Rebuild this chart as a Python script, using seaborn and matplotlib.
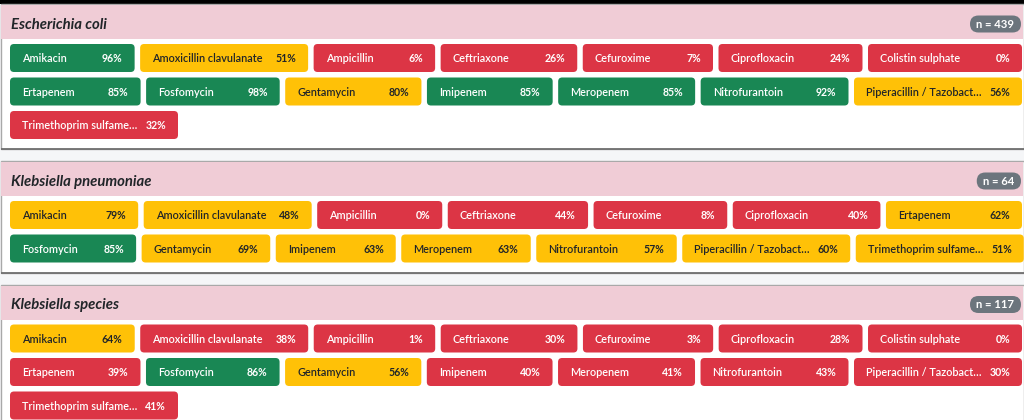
import matplotlib
matplotlib.use("Agg")
import matplotlib.pyplot as plt
from matplotlib.patches import FancyBboxPatch, Rectangle
import seaborn as sns
import pandas as pd

# ---------------- data ----------------
organisms = ["Escherichia coli", "Klebsiella pneumoniae", "Klebsiella species"]
isolate_counts = [439, 64, 117]

ecoli_drugs = ["Amikacin", "Amoxicillin clavulanate", "Ampicillin", "Ceftriaxone",
               "Cefuroxime", "Ciprofloxacin", "Colistin sulphate", "Ertapenem",
               "Fosfomycin", "Gentamycin", "Imipenem", "Meropenem", "Nitrofurantoin",
               "Piperacillin / Tazobact…", "Trimethoprim sulfame…"]
ecoli_pct = [96, 51, 6, 26, 7, 24, 0, 85, 98, 80, 85, 85, 92, 56, 32]

kpn_drugs = ["Amikacin", "Amoxicillin clavulanate", "Ampicillin", "Ceftriaxone",
             "Cefuroxime", "Ciprofloxacin", "Ertapenem", "Fosfomycin", "Gentamycin",
             "Imipenem", "Meropenem", "Nitrofurantoin", "Piperacillin / Tazobact…",
             "Trimethoprim sulfame…"]
kpn_pct = [79, 48, 0, 44, 8, 40, 62, 85, 69, 63, 63, 57, 60, 51]

ksp_drugs = ["Amikacin", "Amoxicillin clavulanate", "Ampicillin", "Ceftriaxone",
             "Cefuroxime", "Ciprofloxacin", "Colistin sulphate", "Ertapenem",
             "Fosfomycin", "Gentamycin", "Imipenem", "Meropenem", "Nitrofurantoin",
             "Piperacillin / Tazobact…", "Trimethoprim sulfame…"]
ksp_pct = [64, 38, 1, 30, 3, 28, 0, 39, 86, 56, 40, 41, 43, 30, 41]

frames = []
for org, drugs, pcts in [(organisms[0], ecoli_drugs, ecoli_pct),
                         (organisms[1], kpn_drugs, kpn_pct),
                         (organisms[2], ksp_drugs, ksp_pct)]:
    frames.append(pd.DataFrame({"organism": org, "drug": drugs, "pct": pcts}))
df = pd.concat(frames, ignore_index=True)

# ---------------- style ----------------
sns.set_theme(style="white")
FONT = ["Lato", "DejaVu Sans"]
plt.rcParams["font.family"] = FONT
green, yellow, red = sns.color_palette(["#198754", "#ffc107", "#dc3545"])
DARK = "#212529"
PINK = "#f0ccd6"
PAGE = "#f5f6f8"

def chip_color(p):
    if p >= 85:
        return green, "white"
    if p >= 45:
        return yellow, DARK
    return red, "white"

W, H = 1024, 420
fig = plt.figure(figsize=(W / 100, H / 100), dpi=100)
ax = fig.add_axes([0, 0, 1, 1])
ax.set_xlim(0, W)
ax.set_ylim(H, 0)
ax.axis("off")
fig.patch.set_facecolor(PAGE)
renderer = fig.canvas.get_renderer()

def text_w(s, size, **kw):
    t = ax.text(0, 0, s, fontsize=size, **kw)
    w = t.get_window_extent(renderer).width
    t.remove()
    return w

def fit_size(s, target, **kw):
    return 10 * target / text_w(s, 10, **kw)

LBL_KW = dict(fontweight="semibold")
PCT_KW = dict(fontweight="bold")
HDR_KW = dict(fontweight="bold", fontstyle="italic")
fs_lbl = min(9.5, fit_size("Amoxicillin clavulanate", 111, **LBL_KW))
fs_pct = min(9.5, fit_size("96%", 21, **PCT_KW))
fs_hdr = min(11.5, fit_size("Escherichia coli", 96, **HDR_KW))
fs_badge = min(9.0, fit_size("n = 439", 38, **PCT_KW))

# layout constants (CSS-like)
X0, X1 = 10, 1022
GAP = 5.5
PAD = 12
INNER = 7
MINW, MAXW = 120, 168
CHIP_H = 28
ROW_STEP = 33.5

def resolve_row(idx, base):
    space = (X1 - X0) - GAP * (len(idx) - 1)
    frozen = {}
    while True:
        unf = [i for i in idx if i not in frozen]
        if not unf:
            return frozen
        free = space - sum(frozen.values()) - sum(base[i] for i in unf)
        share = free / len(unf)
        target = {i: base[i] + share for i in unf}
        viol = {i: MAXW for i in unf if target[i] > MAXW}
        if not viol:
            out = dict(frozen)
            out.update({i: max(MINW, v) for i, v in target.items()})
            return out
        frozen.update(viol)

y = 4
ax.add_patch(Rectangle((0, 0), W, 4, facecolor="black", edgecolor="none", zorder=0))
for org, n in zip(organisms, isolate_counts):
    sub = df[df.organism == org].reset_index(drop=True)
    base = []
    for d, p in zip(sub.drug, sub.pct):
        base.append(PAD * 2 + INNER + text_w(d, fs_lbl, **LBL_KW) + text_w(f"{p}%", fs_pct, **PCT_KW))
    hyp = [min(MAXW, max(MINW, b)) for b in base]
    rows, cur, used = [], [], 0
    for i, h in enumerate(hyp):
        need = h if not cur else used + GAP + h
        if cur and need > (X1 - X0):
            rows.append(cur)
            cur, used = [i], h
        else:
            cur.append(i)
            used = need
    rows.append(cur)

    card_top = y
    hdr_top = card_top + 1
    hdr_bot = hdr_top + 34
    chips_top = hdr_bot + 5
    card_bot = chips_top + (len(rows) - 1) * ROW_STEP + CHIP_H + 10

    ax.add_patch(Rectangle((0.5, card_top), W - 1, card_bot - card_top, facecolor="white",
                           edgecolor="#a9a9a9", lw=1, zorder=1))
    ax.plot([0.5, W - 0.5], [card_bot, card_bot], color="#707070", lw=1.3, zorder=2,
            solid_capstyle="butt")
    ax.add_patch(Rectangle((1, hdr_top), W - 2, hdr_bot - hdr_top, facecolor=PINK,
                           edgecolor="none", zorder=2))
    ax.text(11, hdr_top + 24, org, fontsize=fs_hdr, color=DARK, va="baseline",
            ha="left", zorder=3, **HDR_KW)
    btxt = f"n = {n}"
    bw = text_w(btxt, fs_badge, **PCT_KW) + 13
    bx1 = 1021
    bcy = hdr_top + 19
    ax.add_patch(FancyBboxPatch((bx1 - bw, bcy - 8.5), bw, 17,
                                boxstyle="round,pad=0,rounding_size=8.5",
                                facecolor="#6c757d", edgecolor="none", zorder=3))
    ax.text(bx1 - bw / 2, bcy + 3.8, btxt, fontsize=fs_badge, color="white",
            ha="center", va="baseline", zorder=4, **PCT_KW)

    for r, idx in enumerate(rows):
        widths = resolve_row(idx, base)
        x = X0
        ytop = chips_top + r * ROW_STEP
        for i in idx:
            w = widths[i]
            fc, tc = chip_color(sub.pct[i])
            ax.add_patch(FancyBboxPatch((x, ytop), w, CHIP_H,
                                        boxstyle="round,pad=0,rounding_size=4",
                                        facecolor=fc, edgecolor="none", zorder=3))
            yb = ytop + CHIP_H / 2 + 4.3
            ax.text(x + PAD, yb, sub.drug[i], fontsize=fs_lbl, color=tc,
                    ha="left", va="baseline", zorder=4, **LBL_KW)
            ax.text(x + w - PAD, yb, f"{sub.pct[i]}%", fontsize=fs_pct, color=tc,
                    ha="right", va="baseline", zorder=4, **PCT_KW)
            x += w + GAP
    y = card_bot + 12

fig.savefig("out.png", dpi=100, facecolor=fig.get_facecolor())
